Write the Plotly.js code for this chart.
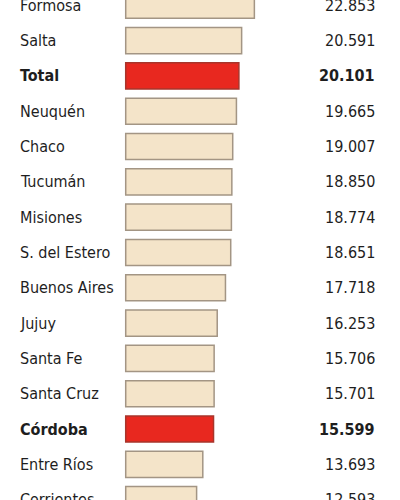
<!DOCTYPE html>
<html>
<head>
<meta charset="utf-8">
<script src="https://cdn.plot.ly/plotly-3.0.1.min.js"></script>
<style>html,body{margin:0;padding:0;background:#fff;}#chart{width:400px;height:500px;}</style>
</head>
<body>
<div id="chart"></div>
<script>
const provinces = ["Formosa","Salta","Total","Neuquén","Chaco","Tucumán","Misiones","S. del Estero","Buenos Aires","Jujuy","Santa Fe","Santa Cruz","Córdoba","Entre Ríos","Corrientes"];
const values = [22.853,20.591,20.101,19.665,19.007,18.850,18.774,18.651,17.718,16.253,15.706,15.701,15.599,13.693,12.593];
const highlighted = ["Total","Córdoba"];

const isHi = provinces.map(p => highlighted.includes(p));
const fillColors = isHi.map(h => h ? "#e8281f" : "#f4e4c9");
const lineColors = isHi.map(h => h ? "#a8352b" : "#a39584");
const FONT = "DejaVu Sans Condensed, Liberation Sans Narrow, sans-serif";

const trace = {
  type: "bar",
  orientation: "h",
  x: values,
  y: provinces,
  width: 0.74,
  marker: {color: fillColors, line: {color: lineColors, width: 1.5}},
  hoverinfo: "none"
};

const annotations = [];
provinces.forEach((p, i) => {
  const bold = isHi[i];
  annotations.push({
    xref: "paper", yref: "y", x: 18/400, y: p, xanchor: "left", yanchor: "middle",
    text: bold ? "<b>" + p + "</b>" : p, showarrow: false,
    font: {family: FONT, size: 16, color: "#1e1e1e"}
  });
  annotations.push({
    xref: "paper", yref: "y", x: 377/400, y: p, xanchor: "right", yanchor: "middle",
    text: bold ? "<b>" + values[i].toFixed(3) + "</b>" : values[i].toFixed(3), showarrow: false,
    font: {family: FONT, size: 16, color: "#1e1e1e"}
  });
});

const layout = {
  width: 400, height: 500,
  margin: {l: 0, r: 0, t: 0, b: 0, pad: 0},
  paper_bgcolor: "#ffffff", plot_bgcolor: "#ffffff",
  showlegend: false,
  xaxis: {range: [-22.33, 48.72], visible: false, fixedrange: true},
  yaxis: {type: "category", range: [14.01, -0.15], visible: false, fixedrange: true},
  annotations: annotations
};

Plotly.newPlot("chart", [trace], layout, {staticPlot: true, displayModeBar: false});
</script>
</body>
</html>
